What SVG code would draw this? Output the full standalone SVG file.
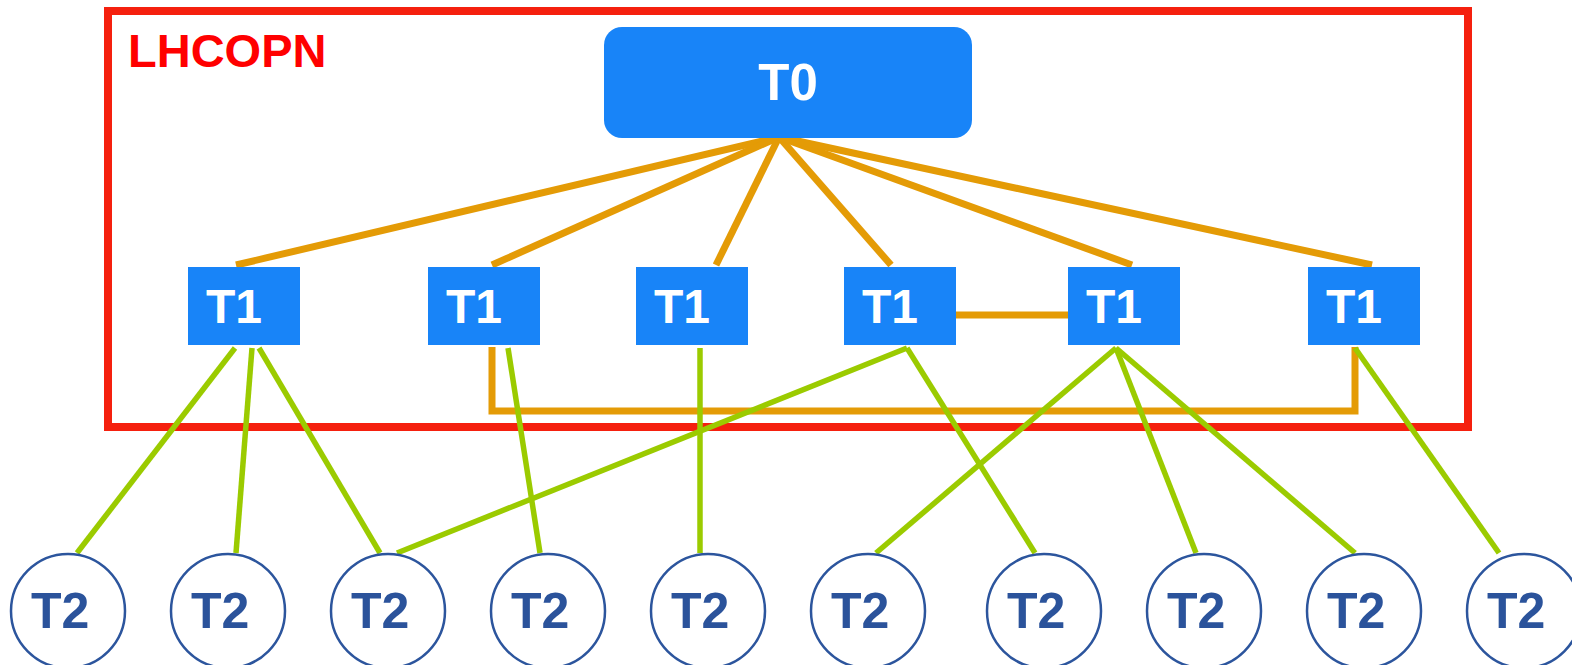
<svg xmlns="http://www.w3.org/2000/svg" width="1572" height="665" viewBox="0 0 1572 665">
<style>
.t1 rect{fill:#1884F8}
.lbl{font-family:"Liberation Sans",Arial,sans-serif;font-weight:bold}
.t1 text{fill:#fff;font-size:48px}
.t2 ellipse{fill:#fff;stroke:#2C559D;stroke-width:2.5}
.t2 text{fill:#2B539B;font-size:50px}
.or{stroke:#E49B06;stroke-width:7;fill:none}
.gr{stroke:#9BCB00;stroke-width:5.5;fill:none}
</style>
<rect width="1572" height="665" fill="#fff"/>
<g id="lhcopn">
<rect x="108" y="11" width="1360" height="416" fill="none" stroke="#F5200E" stroke-width="8"/>
<text class="lbl" x="128" y="67" font-size="47" fill="#FF0000">LHCOPN</text>
</g>
<g id="connectors">
<g class="or">
<line x1="779" y1="137" x2="236" y2="265"/>
<line x1="779" y1="137" x2="492" y2="265"/>
<line x1="779" y1="137" x2="716" y2="265"/>
<line x1="779" y1="137" x2="891" y2="265"/>
<line x1="779" y1="137" x2="1132" y2="265"/>
<line x1="779" y1="137" x2="1372" y2="265"/>
<line x1="955" y1="315" x2="1068" y2="315"/>
<path d="M492,347 V411 H1355 V347"/>
</g>
<g class="gr">
<line x1="235" y1="348" x2="77" y2="553"/>
<line x1="252" y1="348" x2="236" y2="553"/>
<line x1="259" y1="348" x2="380" y2="553"/>
<line x1="508" y1="348" x2="540" y2="553"/>
<line x1="700" y1="348" x2="700" y2="553"/>
<line x1="907" y1="348" x2="397" y2="553"/>
<line x1="907" y1="348" x2="1035" y2="553"/>
<line x1="1116" y1="348" x2="876" y2="553"/>
<line x1="1116" y1="348" x2="1196" y2="553"/>
<line x1="1116" y1="348" x2="1355" y2="553"/>
<line x1="1355" y1="348" x2="1499" y2="553"/>
</g>
</g>
<g id="t0">
<rect x="604" y="27" width="368" height="111" rx="18" fill="#1884F8"/>
<text class="lbl" x="788" y="100" font-size="51" fill="#fff" text-anchor="middle">T0</text>
</g>
<g id="t1a" class="t1"><rect x="188" y="267" width="112" height="78"/><text class="lbl" x="206" y="323">T1</text></g>
<g id="t1b" class="t1"><rect x="428" y="267" width="112" height="78"/><text class="lbl" x="446" y="323">T1</text></g>
<g id="t1c" class="t1"><rect x="636" y="267" width="112" height="78"/><text class="lbl" x="654" y="323">T1</text></g>
<g id="t1d" class="t1"><rect x="844" y="267" width="112" height="78"/><text class="lbl" x="862" y="323">T1</text></g>
<g id="t1e" class="t1"><rect x="1068" y="267" width="112" height="78"/><text class="lbl" x="1086" y="323">T1</text></g>
<g id="t1f" class="t1"><rect x="1308" y="267" width="112" height="78"/><text class="lbl" x="1326" y="323">T1</text></g>
<g id="t2-1" class="t2"><ellipse cx="68" cy="611" rx="57" ry="57"/><text class="lbl" x="31" y="628">T2</text></g>
<g id="t2-2" class="t2"><ellipse cx="228" cy="611" rx="57" ry="57"/><text class="lbl" x="191" y="628">T2</text></g>
<g id="t2-3" class="t2"><ellipse cx="388" cy="611" rx="57" ry="57"/><text class="lbl" x="351" y="628">T2</text></g>
<g id="t2-4" class="t2"><ellipse cx="548" cy="611" rx="57" ry="57"/><text class="lbl" x="511" y="628">T2</text></g>
<g id="t2-5" class="t2"><ellipse cx="708" cy="611" rx="57" ry="57"/><text class="lbl" x="671" y="628">T2</text></g>
<g id="t2-6" class="t2"><ellipse cx="868" cy="611" rx="57" ry="57"/><text class="lbl" x="831" y="628">T2</text></g>
<g id="t2-7" class="t2"><ellipse cx="1044" cy="611" rx="57" ry="57"/><text class="lbl" x="1007" y="628">T2</text></g>
<g id="t2-8" class="t2"><ellipse cx="1204" cy="611" rx="57" ry="57"/><text class="lbl" x="1167" y="628">T2</text></g>
<g id="t2-9" class="t2"><ellipse cx="1364" cy="611" rx="57" ry="57"/><text class="lbl" x="1327" y="628">T2</text></g>
<g id="t2-10" class="t2"><ellipse cx="1524" cy="611" rx="57" ry="57"/><text class="lbl" x="1487" y="628">T2</text></g>
</svg>
